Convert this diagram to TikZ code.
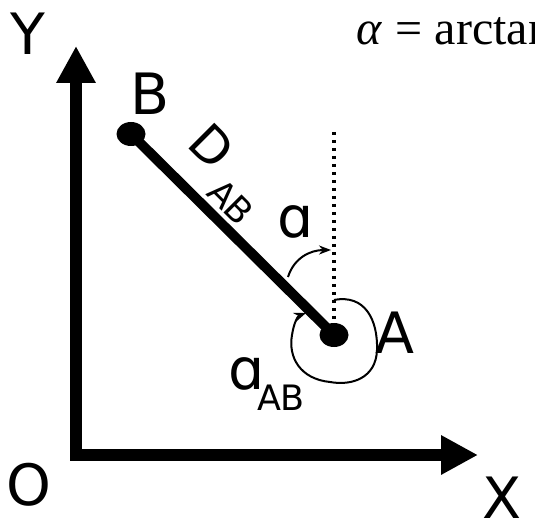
\documentclass[tikz,border=0pt]{standalone}
\usepackage{fontspec}
\setmainfont{DejaVu Sans}
\newfontfamily\tms{Liberation Serif}
\usetikzlibrary{arrows.meta,shapes.geometric}
\begin{document}
\begin{tikzpicture}[x=1pt,y=-1pt,
  lbl/.style={inner sep=0pt,font=\fontsize{57}{57}\selectfont},
  sublbl/.style={inner sep=0pt,font=\fontsize{35}{35}\selectfont},
  dotpt/.style={ellipse,fill=black,inner sep=0pt,minimum width=29pt,minimum height=24pt},
  axis/.style={line width=12pt,line join=miter,{Triangle[length=37pt,width=37pt]}-{Triangle[length=37pt,width=37pt]}},
  thinarrow/.style={line width=2pt,-{Stealth[length=12pt,width=9pt]}}
]
\useasboundingbox (0,0) rectangle (535,518);
% axes
\coordinate (ytip) at (76,46);
\coordinate (O) at (76,455);
\coordinate (xtip) at (478,455);
\draw[axis] (ytip) -- (O) -- (xtip);
\node[lbl] (Ylbl) at (28,34) {Y};
\node[lbl] (Olbl) at (29,485) {O};
\node[lbl] (Xlbl) at (502,498) {X};
% points
\node[dotpt] (B) at (131,134) {};
\node[dotpt] (A) at (334,335) {};
\draw[line width=10pt] (B.center) -- (A.center);
\node[lbl] (Blbl) at (150,94) {B};
\node[lbl] (Albl) at (395,333) {A};
% D_AB
\node[inner sep=0pt,font=\fontsize{50}{50}\selectfont,rotate=-45] (Dlbl) at (212,146) {D};
\node[sublbl,rotate=-45] (Dsub) at (231,202) {AB};
% dotted north line
\coordinate (N) at (334,132);
\draw[line width=3.5pt,dash pattern=on 3.5pt off 4.5pt] (N) -- (A.center);
% alpha arc
\coordinate (a1) at (288,277);
\coordinate (a2) at (331,250);
\draw[thinarrow] (a1) .. controls (294,258) and (310,250) .. (a2);
\node[lbl] (albl) at (296,222) {ɑ};
% alpha_AB loop
\coordinate (b1) at (334,300);
\coordinate (b2) at (377,350);
\coordinate (b3) at (330,382);
\coordinate (b4) at (292,335);
\coordinate (b5) at (306,313);
\draw[thinarrow] (b1) .. controls (365,294) and (378,320) .. (b2)
  .. controls (376,378) and (352,386) .. (b3)
  .. controls (300,379) and (288,357) .. (b4)
  .. controls (294,322) and (298,316) .. (b5);
\node[lbl] (aABlbl) at (247,374) {ɑ};
\node[sublbl] (aABsub) at (281,398) {AB};
% formula
\node[inner sep=0pt,anchor=base west,font=\tms\fontsize{48}{48}\selectfont] (formula) at (356,45) {{\itshape α}\hspace{0.3em}=\hspace{0.25em}arctan};
\end{tikzpicture}
\end{document}
